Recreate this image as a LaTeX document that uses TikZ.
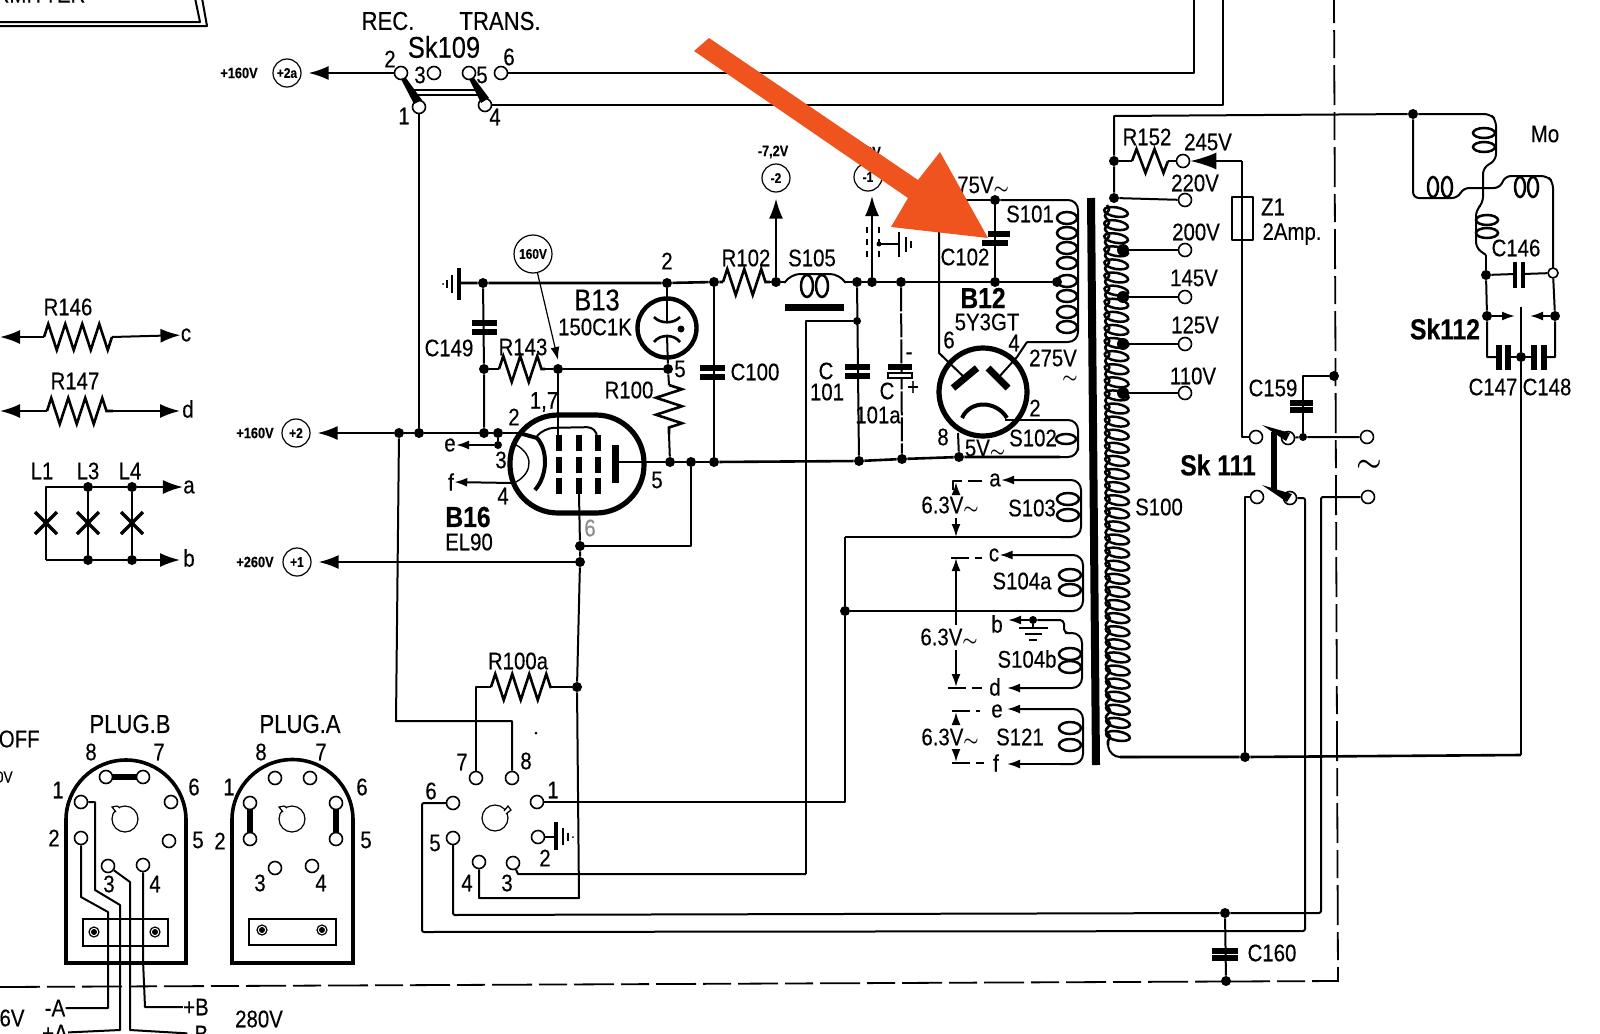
\documentclass[tikz,border=0pt]{standalone}
\usepackage{fontspec}
\setmainfont[FakeStretch=0.85,FakeBold=0.3]{Liberation Sans}
\usetikzlibrary{arrows.meta,decorations.pathmorphing}
\definecolor{arroworange}{HTML}{F0541E}
\newcommand{\acs}{\mbox{\boldmath$\scriptstyle\sim$}}
\newcommand{\acb}{\mbox{\boldmath$\sim$}}
\tikzstyle{wire} = [line width=1pt, line join=round]
\tikzstyle{rail} = [line width=1.3pt, line join=round]
\tikzstyle{corner} = [wire, rounded corners=5pt]
\tikzstyle{res} = [line width=1.3pt, decorate, decoration={zigzag, segment length=8.5pt, amplitude=6.5pt}]
\tikzstyle{loopw} = [line width=1.25pt]
\tikzstyle{dot} = [circle, fill=black, inner sep=0pt, minimum size=5pt]
\tikzstyle{pin} = [circle, draw=black, fill=white, line width=0.8pt, inner sep=0pt, minimum size=6.5pt]
\tikzstyle{arr} = [-{Latex[length=10pt,width=7pt]}]
\tikzstyle{sarr} = [-{Latex[length=6.5pt,width=4.5pt]}]
\tikzstyle{plate} = [line width=2.6pt]
\tikzstyle{lbl} = [inner sep=0pt, font=\fontsize{12}{13}\selectfont]
\tikzstyle{widelbl} = [inner sep=0pt, font=\fontsize{13}{14}\selectfont]
\tikzstyle{biglbl} = [inner sep=0pt, font=\fontsize{15}{16}\selectfont]
\tikzstyle{boldlbl} = [inner sep=0pt, font=\fontsize{14.5}{15}\selectfont\bfseries]
\tikzstyle{smalllbl} = [inner sep=0pt, font=\fontsize{7.5}{8}\selectfont\bfseries]
\tikzstyle{vcirc} = [circle, draw=black, line width=0.6pt, inner sep=0pt, minimum size=14pt, font=\fontsize{7}{8}\selectfont\bfseries]
\tikzstyle{plugbody} = [line width=1.8pt]
\tikzstyle{border} = [line width=0.9pt, dash pattern=on 20pt off 3.5pt on 14pt off 3.5pt]

\begin{document}
\begin{tikzpicture}[x=0.5pt, y=-0.5pt]
    \useasboundingbox (0,0) rectangle (1600,1033);
    \clip (0,0) rectangle (1600,1033);

    % frame and box
    \draw [wire] (0,22) -- (200,22) -- (195,-2);
    \draw [wire] (0,26) -- (207,26) -- (202,-2);
    \node [lbl, anchor=south] (lblbox) at (40,3) {RMITTER};
    \draw [border] (0,987) -- (1338,981) -- (1334,0);

    % Sk109
    \node [widelbl] (lblrec) at (388,21) {REC.};
    \node [widelbl] (lbltrans) at (500,21) {TRANS.};
    \node [biglbl] (lblsk109) at (444,47) {Sk109};
    \node [pin] (t2) at (401,73) {};
    \node [pin] (t3) at (434,73) {};
    \node [pin] (t5) at (469,73) {};
    \node [pin] (t6) at (501,73) {};
    \node [pin] (t1) at (419,107) {};
    \node [pin] (t4) at (485,105) {};
    \foreach \n/\x/\y in {2/390/59,3/420/75,5/482/75,6/509/57,1/404/116,4/495/117}
        \node [lbl] (lblt\n) at (\x,\y) {\n};
    \fill (401,79) -- (406,78) -- (422,100) -- (414,104) -- cycle;
    \fill (469,79) -- (474,78) -- (489,98) -- (481,103) -- cycle;
    \draw [wire] (413,90) -- (476,90);
    \draw [wire] (415,95) -- (478,95);
    \draw [wire] (t6) -| (1194,0);
    \draw [wire] (t4) -| (1223,0);
    \node [vcirc] (p2a) at (287,73) {+2a};
    \node [smalllbl] (lbl2a) at (239,73) {+160V};
    \draw [wire, arr, shorten >=3.5pt] (t2) -- (p2a);

    % left hand parts
    \node [lbl] (lblr146) at (68,307) {R146};
    \coordinate (r146a) at (44,337);
    \coordinate (r146b) at (112,337);
    \node [lbl] (lblc) at (186,335) {c};
    \draw [wire, arr] (r146a) -- (0,337);
    \draw [res] (r146a) -- (r146b);
    \draw [wire, arr] (r146b) -- (lblc);
    \node [lbl] (lblr147) at (75,381) {R147};
    \coordinate (r147a) at (47,411);
    \coordinate (r147b) at (113,411);
    \node [lbl] (lbld) at (188,409) {d};
    \draw [wire, arr] (r147a) -- (0,411);
    \draw [res] (r147a) -- (r147b);
    \draw [wire, arr] (r147b) -- (180,411);
    \node [lbl] (lbll1) at (42,471) {L1};
    \node [lbl] (lbll3) at (88,471) {L3};
    \node [lbl] (lbll4) at (130,471) {L4};
    \node [dot] (l3a) at (88,487) {};
    \node [dot] (l4a) at (132,487) {};
    \node [dot] (l3b) at (88,560) {};
    \node [dot] (l4b) at (132,560) {};
    \node [lbl] (lbla) at (189,487) {a};
    \node [lbl] (lblb) at (189,558) {b};
    \draw [wire, arr] (46,560) |- (46,487) -- (l3a) -- (l4a) -- (lbla);
    \draw [wire, arr] (46,560) -- (l3b) -- (l4b) -- (180,560);
    \draw [wire] (l3a) -- (l3b);
    \draw [wire] (l4a) -- (l4b);
    \foreach \x in {46,88,132}
        \draw [line width=1.7pt] (\x-11,512) -- (\x+11,534) (\x+11,512) -- (\x-11,534);

    % supply rail
    \coordinate (gnd) at (459,283);
    \draw [line width=2pt] (459,268) -- (459,300);
    \draw [line width=0.9pt] (452,275) -- (452,293) (447,280) -- (447,288);
    \fill (443,284) circle (1);
    \node [dot] (jc149) at (483,283) {};
    \node [dot] (jb13) at (667,283) {};
    \node [dot] (jc100) at (714,282) {};
    \coordinate (r102a) at (723,282);
    \coordinate (r102b) at (770,282);
    \node [dot] (jmin2) at (776,282) {};
    \coordinate (s105a) at (785,282);
    \coordinate (s105b) at (845,282);
    \node [dot] (jc101) at (857,282) {};
    \node [dot] (jmin1) at (872,282) {};
    \node [dot] (jc101a) at (901,282) {};
    \node [dot] (jc102) at (995,282) {};
    \node [dot] (js101) at (1057,282) {};
    \draw [rail] (gnd) -- (jc149) -- (jb13) -- (jc100) -- (r102a);
    \draw [res] (r102a) -- (r102b);
    \draw [rail] (r102b) -- (jmin2) -- (s105a);
    \draw [corner] (s105a) -- (790,274) -- (840,274) -- (s105b);
    \foreach \x in {807,822}
        \draw [loopw] (\x,286) ellipse (6 and 11);
    \draw [line width=3.5pt] (785,307) -- (844,307);
    \draw [rail] (s105b) -- (jc101) -- (jmin1) -- (jc101a) -- (jc102) -- (js101);
    \node [lbl] (lblr102) at (746,258) {R102};
    \node [lbl] (lbls105) at (812,258) {S105};
    \node [lbl] (lblb13pin) at (667,261) {2};
    \node [vcirc] (pmin2) at (776,178) {-2};
    \node [smalllbl] (lbl72) at (773,152) {-7,2V};
    \draw [wire, arr, shorten >=3pt] (jmin2) -- (pmin2);
    \node [vcirc] (pmin1) at (868,177) {-1};
    \node [smalllbl] (lbl1v) at (873,152) {2V};
    \draw [wire, arr] (jmin1) -- (872,196);
    \draw [wire, dashed] (867,227) -- (867,263);
    \draw [wire, dashed] (879,227) -- (879,263);
    \fill (879,244) circle (2.5);
    \draw [wire] (879,244) -- (899,244);
    \draw [line width=1.2pt] (899,232) -- (899,257);
    \draw [line width=0.8pt] (906,237) -- (906,252) (911,241) -- (911,248);

    % C149 R143
    \node [lbl] (lblc149) at (449,348) {C149};
    \node [dot] (jr143) at (484,369) {};
    \node [dot] (j160a) at (399,433) {};
    \node [dot] (j160b) at (419,433) {};
    \node [dot] (j160c) at (484,433) {};
    \node [dot] (j160d) at (498,433) {};
    \coordinate (r143a) at (499,369);
    \coordinate (r143b) at (545,369);
    \node [dot] (jg2) at (558,369) {};
    \node [dot] (jb13k) at (668,369) {};
    \draw [wire] (jc149) -- (jr143) -- (j160c);
    \draw [plate] (472,323) -- (497,323) (472,332) -- (497,332);
    \draw [wire] (jr143) -- (r143a);
    \draw [res] (r143a) -- (r143b);
    \draw [wire] (r143b) -- (jg2) -- (jb13k);
    \node [lbl] (lblr143) at (523,347) {R143};
    \node [lbl] (lbl17) at (544,402) {1,7};
    \draw [wire] (t1) -- (j160b);
    \node [vcirc, minimum size=19pt] (p160v) at (533,254) {160V};
    \draw [line width=0.6pt, sarr] (p160v) -- (558,360);

    % +160 +260 leads
    \node [vcirc] (p2) at (296,433) {+2};
    \node [smalllbl] (lbl2) at (255,433) {+160V};
    \coordinate (g16) at (519,433);
    \draw [wire, arr, shorten >=3.5pt] (j160a) -- (p2);
    \draw [rail] (j160a) -- (j160b) -- (j160c) -- (j160d) -- (g16);
    \node [vcirc] (p1) at (297,562) {+1};
    \node [smalllbl] (lbl1) at (255,562) {+260V};
    \node [dot] (j260) at (580,562) {};
    \node [dot] (jg3) at (580,546) {};
    \draw [wire, arr, shorten >=3.5pt] (j260) -- (p1);
    \node [dot] (jb16a) at (670,462) {};
    \node [dot] (jb16b) at (691,462) {};
    \node [dot] (jb16c) at (714,462) {};
    \draw [wire] (jg3) -| (jb16b);

    % B16
    \node [rectangle, rounded corners=24pt, draw=black, line width=2.6pt, minimum width=67pt, minimum height=49pt, inner sep=0pt] (b16) at (577,464) {};
    \node [boldlbl] (lblb16) at (468,517) {B16};
    \node [lbl] (lblel90) at (469,542) {EL90};
    \foreach \x in {559,579,598}
        \foreach \a/\b in {435/451,457/473,478/494}
            \draw [line width=3pt] (\x,\a) -- (\x,\b);
    \draw [line width=3.5pt] (615,445) -- (615,483);
    \draw [wire] (615,462) -- (jb16a) -- (jb16b) -- (jb16c);
    \draw [line width=2pt] (g16) -- (537,438) .. controls (548,450) and (548,475) .. (535,490);
    \draw [line width=0.7pt] (512,443) .. controls (534,452) and (534,472) .. (516,482);
    \draw [wire, rounded corners=5pt] (537,436) -- (544,428) -- (597,427) -- (597,435);
    \draw [wire] (jg2) -- (558,435);
    \draw [wire] (579,494) -- (jg3) -- (j260);
    \node [dot, minimum size=4pt] (j160e) at (498,445) {};
    \node [lbl] (lble) at (450,445) {e};
    \draw [wire] (j160d) -- (j160e);
    \draw [wire, sarr] (j160e) -- (lble);
    \node [lbl] (lblf) at (451,482) {f};
    \draw [wire, sarr] (512,483) -- (lblf);
    \foreach \n/\t/\x/\y in {2/2/514/417,3/3/501/460,4/4/503/496,5/5/657/480}
        \node [lbl] (lblb16\n) at (\x,\y) {\t};
    \node [lbl, text=black!45] (lblb166) at (590,528) {6};

    % B13
    \node [circle, draw=black, line width=2.2pt, inner sep=0pt, minimum size=29.5pt] (b13) at (667,328) {};
    \draw [wire] (jb13) -- (667,323);
    \draw [wire] (667,335) -- (jb13k);
    \draw [line width=1.3pt] (654,317) .. controls (660,324) and (674,324) .. (680,317);
    \draw [line width=1.3pt] (654,342) .. controls (660,334) and (674,334) .. (680,342);
    \fill (681,329) circle (3.5);
    \node [biglbl] (lblb13) at (597,300) {B13};
    \node [lbl] (lbl150) at (595,327) {150C1K};
    \node [lbl] (lblb135) at (680,369) {5};
    \node [lbl] (lblr100) at (629,390) {R100};
    \coordinate (r100a) at (669,385);
    \coordinate (r100b) at (669,434);
    \draw [wire] (jb13k) -- (r100a);
    \draw [res] (r100a) -- (r100b);
    \draw [wire] (r100b) -- (jb16a);

    % C100 C101 C101a
    \draw [wire] (jc100) -- (jb16c);
    \draw [plate] (700,368) -- (725,368) (700,377) -- (725,377);
    \node [lbl] (lblc100) at (755,372) {C100};
    \node [dot] (jbr101) at (859,461) {};
    \node [dot] (jbr101a) at (902,459) {};
    \node [dot] (jbrb12) at (959,457) {};
    \node [dot, minimum size=4pt] (js105) at (857,321) {};
    \draw [wire] (jc101) -- (jbr101);
    \draw [plate] (845,367) -- (870,367) (845,376) -- (870,376);
    \node [lbl] (lblc101) at (826,371) {C};
    \node [lbl] (lbl101) at (827,392) {101};
    \draw [wire, dash pattern=on 12pt off 1pt] (jc101a) -- (jbr101a);
    \draw [plate] (888,367) -- (912,367);
    \draw [fill=white, line width=0.6pt] (888,373) rectangle (912,378);
    \node [lbl] (lblminus) at (909,356) {-};
    \node [lbl] (lblplus) at (913,388) {+};
    \node [lbl] (lblca) at (887,391) {C};
    \node [lbl] (lbl101a) at (878,415) {101a};
    \draw [rail] (jb16c) -- (jbr101) -- (jbr101a) -- (jbrb12) -- (1060,457);
    \draw [wire] (js105) -| (806,874);

    % B12
    \node [circle, draw=black, line width=2.6pt, inner sep=0pt, minimum size=44pt] (b12) at (983,392) {};
    \draw [line width=3.5pt] (953,388) -- (977,368);
    \draw [line width=3.5pt] (988,368) -- (1008,388);
    \draw [line width=2pt] (962,418) .. controls (970,400) and (996,400) .. (1007,418);
    \draw [wire] (965,378) -- (939,353) -- (939,200);
    \draw [wire] (998,378) -- (1017,357) -- (1027,342);
    \draw [wire] (1005,420) -- (1040,420);
    \draw [wire] (958,433) -- (jbrb12);
    \node [boldlbl] (lblb12) at (983,298) {B12};
    \node [lbl] (lbl5y) at (987,322) {5Y3GT};
    \foreach \n/\t/\x/\y in {6/6/949/340,4/4/1014/343,2/2/1035/408,8/8/943/437}
        \node [lbl] (lblb12\n) at (\x,\y) {\t};
    \node [lbl] (lbl275b) at (1053,358) {275V};
    \node [lbl] (lbl275t) at (1070,379) {\acs};
    \node [lbl] (lbl5v) at (985,448) {5V\acs};

    % S101 C102 S102
    \node [dot] (jc102t) at (995,200) {};
    \draw [wire] (939,200) -- (jc102t);
    \draw [wire] (jc102t) -- (jc102);
    \draw [plate] (988,234) -- (1010,234) (982,243) -- (1008,243);
    \node [lbl] (lblc102) at (965,257) {C102};
    \draw [corner] (jc102t) -| (1078,270) |- (1027,342);
    \foreach \y in {218,233,248,263,281,296,312,327}
        \draw [loopw] (1067,\y) ellipse (10 and 6);
    \node [lbl] (lbls101) at (1030,214) {S101};
    \node [lbl] (lbl275a) at (983,185) {75V\acs};
    \draw [corner] (1040,420) -| (1078,440) |- (1060,457);
    \draw [loopw] (1066,439) ellipse (10 and 5);
    \node [lbl] (lbls102) at (1033,438) {S102};

    % transformer
    \draw [line width=4pt] (1091,198) -- (1096,765);
    \draw [line width=1.3pt, decorate, decoration={snake, segment length=6.6pt, amplitude=1pt}] (1107,205) -- (1108,745);
    \foreach \i in {0,...,40}
        \draw [loopw, rotate around={-10:(1116+\i*0.05,212+\i*13.1)}] (1116+\i*0.05,212+\i*13.1) ellipse (12 and 4.6);
    \draw [corner] (1108,745) -- (1110,757) -- (1140,757);
    \node [lbl] (lbls100) at (1159,507) {S100};

    % filament windings
    \node [lbl] (lbla2) at (995,480) {a};
    \draw [corner, sarr] (1060,537) -| (1081,510) |- (lbla2);
    \foreach \y in {499,515}
        \draw [loopw] (1068,\y) ellipse (11 and 6);
    \draw [rail] (845,537) -- (1065,537);
    \node [lbl] (lbls103) at (1032,508) {S103};
    \node [lbl] (lblc2) at (994,555) {c};
    \draw [corner, sarr] (1060,611) -| (1083,585) |- (lblc2);
    \foreach \y in {575,590}
        \draw [loopw] (1070,\y) ellipse (11 and 6);
    \node [dot] (j845) at (845,611) {};
    \draw [rail] (j845) -- (1065,611);
    \node [lbl] (lbls104a) at (1022,581) {S104a};
    \node [lbl] (lblb2) at (997,624) {b};
    \node [dot, minimum size=4pt] (jgnd2) at (1033,620) {};
    \draw [wire, sarr] (jgnd2) -- (1008,620);
    \draw [wire, rounded corners=2pt] (jgnd2) -- (1064,620) -- (1064,633) -- (1070,633);
    \draw [line width=1.1pt] (1019,628) -- (1048,628) (1025,634) -- (1042,634) (1029,640) -- (1037,640);
    \draw [wire] (jgnd2) -- (1033,628);
    \node [lbl] (lbld2) at (995,687) {d};
    \draw [corner, sarr] (1065,633) -| (1082,660) |- (1007,688);
    \foreach \y in {654,667}
        \draw [loopw] (1070,\y) ellipse (11 and 6);
    \node [lbl] (lbls104b) at (1027,659) {S104b};
    \node [lbl] (lble2) at (997,711) {e};
    \node [lbl] (lblf2) at (996,763) {f};
    \draw [corner, sarr] (1060,764) -| (1083,735) |- (1007,709);
    \draw [wire, sarr] (1060,764) -- (1007,764);
    \foreach \y in {728,745}
        \draw [loopw] (1070,\y) ellipse (11 and 6);
    \node [lbl] (lbls121) at (1020,737) {S121};
    % voltage marks
    \tikzset{dimdash/.style={wire, dash pattern=on 9pt off 3pt}}
    \draw [dimdash] (953,490) -- (953,481) -- (982,481);
    \draw [wire, sarr] (956,495) -- (956,482);
    \node [lbl] (lbl63a) at (950,505) {6.3V\acs};
    \draw [wire, sarr] (956,518) -- (956,537);
    \draw [dimdash] (951,558) -- (982,558);
    \draw [wire, sarr] (956,625) -- (956,558);
    \node [lbl] (lbl63b) at (949,637) {6.3V\acs};
    \draw [wire, sarr] (956,650) -- (956,687);
    \draw [dimdash] (948,688) -- (982,688);
    \draw [dimdash] (952,711) -- (980,711);
    \draw [wire, sarr] (956,724) -- (956,712);
    \node [lbl] (lbl63c) at (950,737) {6.3V\acs};
    \draw [wire, sarr] (956,752) -- (956,762);
    \draw [dimdash] (952,763) -- (984,763);

    % tappings
    \node [dot] (jtap) at (1114,198) {};
    \node [dot] (jr152) at (1114,161) {};
    \node [dot] (jmo) at (1413,114) {};
    \draw [wire] (jtap) -- (jr152) -- (1114,116) -- (jmo);
    \node [pin] (v245) at (1183,161) {};
    \coordinate (r152a) at (1132,161);
    \coordinate (r152b) at (1168,161);
    \draw [wire] (jr152) -- (r152a);
    \draw [res, decoration={segment length=9pt, amplitude=6pt}] (r152a) -- (r152b);
    \draw [wire] (r152b) -- (v245);
    \node [lbl] (lblr152) at (1147,137) {R152};
    \node [lbl] (lbl245) at (1208,142) {245V};
    \foreach \t/\y/\lx/\ly in {200/250/1196/232,145/297/1194/278,125/344/1195/325,110/393/1193/376} {
        \node [pin] (v\t) at (1185,\y) {};
        \node [dot, minimum size=6pt] (jv\t) at (1123,\y) {};
        \draw [rail] (jv\t) -- (v\t);
        \node [lbl] (lbl\t) at (\lx,\ly) {\t V};
    }
    \node [pin] (v220) at (1185,200) {};
    \draw [wire] (jtap) -- (v220);
    \node [lbl] (lbl220) at (1195,183) {220V};

    % mains switch
    \node [pin] (sa) at (1256,437) {};
    \node [pin] (sb) at (1288,438) {};
    \node [pin] (sc) at (1257,497) {};
    \node [pin] (sd) at (1290,498) {};
    \node [pin] (mainsa) at (1367,437) {};
    \node [pin] (mainsb) at (1368,497) {};
    \node [dot, minimum size=4pt] (jc159) at (1303,437) {};
    \node [dot] (jdash) at (1334,376) {};
    \node [dot] (jbot) at (1245,757) {};
    \fill (1262,425) -- (1290,433) -- (1286,441) -- cycle;
    \fill (1262,485) -- (1292,494) -- (1287,502) -- cycle;
    \draw [line width=2.6pt] (1274,432) -- (1274,490);
    \draw [wire] (sb) -- (jc159) -- (mainsa);
    \draw [wire] (jc159) |- (jdash);
    \draw [plate] (1290,403) -- (1313,403) (1290,410) -- (1313,410);
    \node [lbl] (lblc159) at (1273,388) {C159};
    \node [boldlbl] (lblsk111) at (1218,465) {Sk 111};
    \node [biglbl] (lblmains) at (1369,466) {\acb};
    \coordinate (jfuse) at (1242,161);
    \draw [wire] (sa) -| (jfuse);
    \draw [wire, -{Latex[length=13pt,width=8.5pt]}] (jfuse) -- (v245);
    \draw [wire, fill=white] (1232,197) rectangle (1253,240);
    \draw [wire] (1242,197) -- (1242,240);
    \node [lbl] (lblz1) at (1273,207) {Z1};
    \node [lbl] (lblamp) at (1292,234) {2Amp.};
    \draw [wire] (sc) -| (jbot);
    \draw [rail] (1120,757) -- (jbot) -- (1521,755);

    % mains leads and C160
    \node [dot] (jc160) at (1225,913) {};
    \node [dot] (jc160b) at (1226,981) {};
    \draw [plate] (1212,951) -- (1238,951) (1212,958) -- (1238,958);
    \draw [wire] (jc160) -- (jc160b);
    \node [lbl] (lblc160) at (1272,953) {C160};
    \draw [wire, rounded corners=1pt] (sd) -| (1305,931) -- (422,932) |- (453,803);
    \draw [wire, rounded corners=1pt] (mainsb) -| (1321,913) -- (jc160) -- (453,915) -- (453,838);

    % motor
    \draw [wire, rounded corners=3pt] (jmo) -- (1490,114) -- (1496,120) -- (1496,160) -- (1483,168) -- (1483,203) -- (1476,210) -- (1476,248) -- (1486,255);
    \foreach \y in {133,147}
        \draw [loopw] (1484,\y) ellipse (11 and 5);
    \foreach \y in {220,233}
        \draw [loopw] (1487,\y) ellipse (11 and 5);
    \draw [wire, rounded corners=3pt] (jmo) -- (1413,198) -- (1458,198) -- (1463,188) -- (1500,188) -- (1505,176) -- (1547,176) -- (1553,182) -- (1553,270);
    \foreach \x in {1433,1447,1520,1533}
        \draw [loopw] (\x,187) ellipse (5 and 10);
    \node [lbl] (lblmo) at (1545,134) {Mo};
    \node [dot] (jc146) at (1486,275) {};
    \node [pin, minimum size=5pt] (jc146b) at (1553,273) {};
    \draw [wire] (1486,255) -- (jc146);
    \draw [wire] (jc146) -- (1515,274) (1523,274) -- (jc146b);
    \draw [line width=2.2pt] (1515,262) -- (1515,288) (1523,262) -- (1523,288);
    \node [lbl] (lblc146) at (1516,248) {C146};
    \node [dot] (jsk112a) at (1487,316) {};
    \node [dot] (jsk112b) at (1555,316) {};
    \node [dot] (jsk112c) at (1521,357) {};
    \draw [wire] (jc146) -- (jsk112a) |- (1499,357);
    \draw [wire] (jc146b) -- (jsk112b) |- (1544,357);
    \draw [wire] (1508,357) -- (jsk112c) -- (1534,357);
    \draw [wire, sarr] (jsk112a) -- (1515,316);
    \draw [wire, sarr] (jsk112b) -- (1530,316);
    \draw [wire] (1521,307) -- (jsk112c);
    \draw [rail] (jsk112c) -- (1521,755);
    \draw [line width=2.6pt] (1499,345) -- (1499,370) (1508,345) -- (1508,370) (1534,345) -- (1534,370) (1544,345) -- (1544,370);
    \node [boldlbl] (lblsk112) at (1445,329) {Sk112};
    \node [lbl] (lblc147) at (1493,387) {C147};
    \node [lbl] (lblc148) at (1547,387) {C148};

    % R100a and octal socket
    \node [dot] (jr100a) at (577,687) {};
    \draw [wire] (j260) -- (jr100a);
    \foreach \n/\x/\y in {1/537/802,2/538/837,3/513/863,4/479/862,5/453/838,6/453/803,7/476/778,8/512/778}
        \node [pin] (s\n) at (\x,\y) {};
    \foreach \n/\x/\y in {1/553/790,2/545/858,3/507/883,4/467/883,5/435/843,6/431/791,7/462/762,8/526/761}
        \node [lbl] (lbls\n) at (\x,\y) {\n};
    \coordinate (r100aa) at (491,687);
    \coordinate (r100ab) at (551,687);
    \draw [wire] (s7) |- (r100aa);
    \draw [res] (r100aa) -- (r100ab);
    \draw [wire] (r100ab) -- (jr100a);
    \node [lbl] (lblr100a) at (518,661) {R100a};
    \draw [wire] (j160a) -- (396,721) -| (s8);
    \draw [wire] (jr100a) -- (579,898) -| (s4);
    \draw [wire] (s1) -| (j845);
    \draw [wire] (j845) -- (845,537);
    \draw [wire] (s3) -- (518,874) -- (806,874);
    \draw [wire] (s2) -- (556,837);
    \draw [line width=2pt] (556,822) -- (556,850);
    \draw [line width=0.9pt] (563,828) -- (563,845) (568,833) -- (568,841);
    \fill (573,837) circle (1);
    \draw [line width=0.6pt] (495,818) circle (13);
    \draw [line width=0.6pt, fill=white] (504,811) -- (508,806) -- (511,810) -- (506,814);

    % plugs
    \node [widelbl] (lblplugb) at (130,724) {PLUG.B};
    \node [widelbl] (lblpluga) at (300,724) {PLUG.A};
    \draw [plugbody] (66,963) -- (66,820) arc (180:360:60) -- (186,963) -- cycle;
    \draw [plugbody] (232,963) -- (232,820) arc (180:360:60.5) -- (353,963) -- cycle;
    \foreach \n/\x/\y in {1/81/802,2/81/838,3/108/866,4/143/865,5/169/841,6/171/802,7/143/777,8/106/777}
        \node [pin] (pb\n) at (\x,\y) {};
    \foreach \n/\x/\y in {1/250/803,2/250/839,3/275/868,4/312/866,5/336/839,6/336/803,7/310/778,8/275/778}
        \node [pin] (pa\n) at (\x,\y) {};
    \foreach \n/\x/\y in {1/58/790,2/54/838,3/109/884,4/155/884,5/198/840,6/194/787,7/159/752,8/91/752}
        \node [lbl] (lblpb\n) at (\x,\y) {\n};
    \foreach \n/\x/\y in {1/229/787,2/220/841,3/260/883,4/321/883,5/366/840,6/362/787,7/321/752,8/261/752}
        \node [lbl] (lblpa\n) at (\x,\y) {\n};
    \draw [line width=2.8pt] (pb8) -- (pb7);
    \draw [line width=2.8pt] (pa1) -- (pa2);
    \draw [line width=2.8pt] (pa6) -- (pa5);
    \foreach \x in {125,292} {
        \draw [line width=0.6pt] (\x,819) circle (13);
        \draw [line width=0.6pt, fill=white] (\x-9,812) -- (\x-13,807) -- (\x-8,806) -- (\x-5,808);
    }
    \draw [line width=1.1pt] (83,919) rectangle (168,946);
    \draw [line width=1.1pt] (249,919) rectangle (336,945);
    \foreach \x/\y in {94/932,155/932,262/930,322/930} {
        \draw [line width=0.6pt] (\x,\y) circle (5);
        \fill (\x,\y) circle (3);
    }
    \node [lbl] (lblma) at (55,1008) {-A};
    \node [lbl] (lblpa) at (55,1033) {+A};
    \node [lbl] (lblpb) at (196,1007) {+B};
    \node [lbl] (lblmb) at (198,1034) {-B};
    \node [lbl] (lbl6v) at (12,1018) {6V};
    \node [lbl] (lbl280) at (259,1019) {280V};
    \node [lbl, anchor=east] (lbloff) at (40,739) {OFF};
    \node [lbl, font=\fontsize{8}{9}\selectfont, anchor=east] (lbl0v) at (13,777) {0V};
    \draw [wire] (pb1) -- (95,802) -- (95,890) -- (120,905) -- (120,1030) -- (lblpa);
    \draw [wire] (pb2) -- (81,897) -- (108,912) -- (108,1008) -- (lblma);
    \draw [wire] (pb3) -- (130,882) -- (130,1030) -- (lblmb);
    \draw [wire] (pb4) -- (143,960) -- (145,1007) -- (lblpb);
    \fill (536,733) circle (1.5);

    % pointer
    \fill [arroworange] (694,51) -- (709,38) -- (918,180) -- (940,152) -- (988,238) -- (891,227) -- (908,198) -- cycle;
\end{tikzpicture}
\end{document}
